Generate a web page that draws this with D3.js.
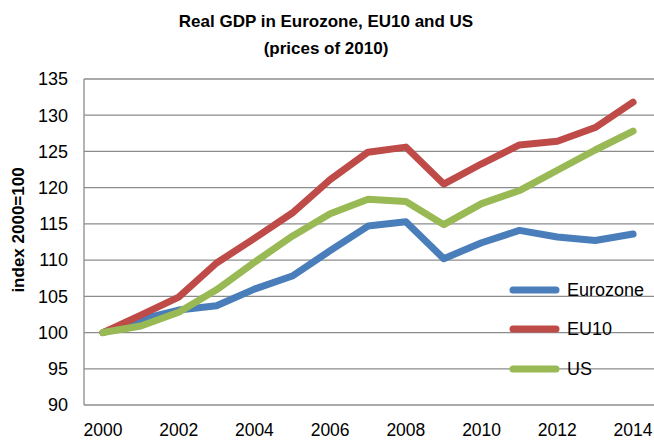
<!DOCTYPE html>
<html>
<head>
<meta charset="utf-8">
<script src="https://cdn.jsdelivr.net/npm/d3@7"></script>
<style>
  body { margin: 0; background: #fff; }
  text { font-family: "Liberation Sans", Arial, sans-serif; fill: #000; }
</style>
</head>
<body>
<div id="chart"></div>
<script>
// Data (index 2000=100)
const years = [2000, 2001, 2002, 2003, 2004, 2005, 2006, 2007, 2008, 2009, 2010, 2011, 2012, 2013, 2014];
const eurozone = [100, 101.8, 103.1, 103.7, 106.0, 107.8, 111.3, 114.7, 115.3, 110.2, 112.4, 114.1, 113.2, 112.7, 113.6];
const eu10 = [100, 102.4, 104.9, 109.6, 113.0, 116.5, 121.1, 124.9, 125.6, 120.5, 123.3, 125.9, 126.4, 128.3, 131.8];
const us = [100, 100.9, 102.8, 105.9, 109.7, 113.3, 116.4, 118.4, 118.1, 114.9, 117.8, 119.6, 122.4, 125.2, 127.8];
const yTicks = [90, 95, 100, 105, 110, 115, 120, 125, 130, 135];
const xTickYears = [2000, 2002, 2004, 2006, 2008, 2010, 2012, 2014];

const seriesList = [
  { name: "Eurozone", values: eurozone, color: "#4A7EBB" },
  { name: "EU10", values: eu10, color: "#BE4B48" },
  { name: "US", values: us, color: "#98B954" }
];

const W = 654, H = 441;
const plotLeft = 84, plotRight = 652, plotTop = 79, plotBottom = 405;

const svg = d3.select("#chart").append("svg")
  .attr("width", W)
  .attr("height", H);

// category style x axis: points centred in bands
const x = d3.scaleBand().domain(years).range([plotLeft, plotRight]);
const cx = d => x(d) + x.bandwidth() / 2;
const y = d3.scaleLinear().domain([90, 135]).range([plotBottom, plotTop]);

// gridlines
svg.append("g")
  .selectAll("line")
  .data(yTicks.filter(t => t > 90))
  .enter().append("line")
  .attr("x1", plotLeft).attr("x2", W)
  .attr("y1", d => y(d)).attr("y2", d => y(d))
  .attr("stroke", "#8c8c8c")
  .attr("stroke-width", 1.3);

// axes lines
svg.append("line")
  .attr("x1", plotLeft).attr("x2", plotLeft)
  .attr("y1", plotTop).attr("y2", plotBottom)
  .attr("stroke", "#8c8c8c").attr("stroke-width", 1.3);
svg.append("line")
  .attr("x1", plotLeft).attr("x2", W)
  .attr("y1", plotBottom).attr("y2", plotBottom)
  .attr("stroke", "#8c8c8c").attr("stroke-width", 1.3);

// y tick labels
svg.append("g")
  .selectAll("text")
  .data(yTicks)
  .enter().append("text")
  .attr("x", 68)
  .attr("y", d => y(d))
  .attr("dy", "0.35em")
  .attr("text-anchor", "end")
  .style("font-size", "18px")
  .text(d => d);

// x tick labels
svg.append("g")
  .selectAll("text")
  .data(xTickYears)
  .enter().append("text")
  .attr("x", d => cx(d))
  .attr("y", 436)
  .attr("text-anchor", "middle")
  .style("font-size", "17.5px")
  .text(d => d);

// lines
const line = d3.line()
  .x((d, i) => cx(years[i]))
  .y(d => y(d));

svg.append("g")
  .selectAll("path")
  .data(seriesList)
  .enter().append("path")
  .attr("d", d => line(d.values))
  .attr("fill", "none")
  .attr("stroke", d => d.color)
  .attr("stroke-width", 7)
  .attr("stroke-linejoin", "round")
  .attr("stroke-linecap", "round");

// legend
const legendY = [290, 329, 369];
const legend = svg.append("g")
  .selectAll("g")
  .data(seriesList)
  .enter().append("g")
  .attr("transform", (d, i) => `translate(0,${legendY[i]})`);
legend.append("line")
  .attr("x1", 513).attr("x2", 556)
  .attr("stroke", d => d.color)
  .attr("stroke-width", 7)
  .attr("stroke-linecap", "round");
legend.append("text")
  .attr("x", 567)
  .attr("dy", "0.35em")
  .style("font-size", "18px")
  .text(d => d.name);

// title
svg.append("text")
  .attr("x", 326).attr("y", 27)
  .attr("text-anchor", "middle")
  .style("font-size", "17px")
  .style("font-weight", "bold")
  .text("Real GDP in Eurozone, EU10 and US");
svg.append("text")
  .attr("x", 326).attr("y", 54)
  .attr("text-anchor", "middle")
  .style("font-size", "17px")
  .style("font-weight", "bold")
  .text("(prices of 2010)");

// y axis title
svg.append("text")
  .attr("transform", "translate(24,230) rotate(-90)")
  .attr("text-anchor", "middle")
  .style("font-size", "17px")
  .style("font-weight", "bold")
  .text("index 2000=100");
</script>
</body>
</html>
